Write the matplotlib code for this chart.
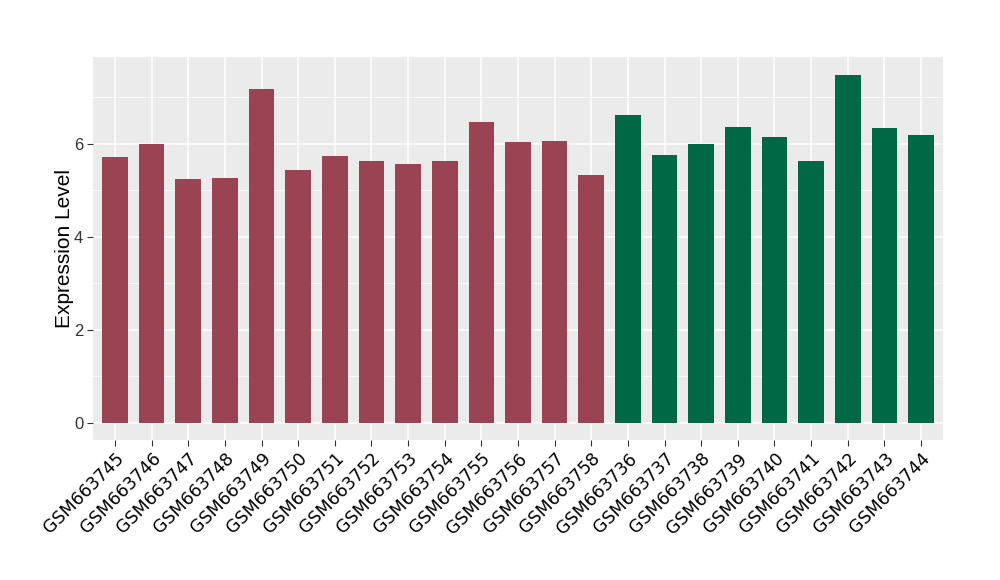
import matplotlib
matplotlib.use("Agg")
import matplotlib.pyplot as plt
import numpy as np

samples = ["GSM663745", "GSM663746", "GSM663747", "GSM663748", "GSM663749",
           "GSM663750", "GSM663751", "GSM663752", "GSM663753", "GSM663754",
           "GSM663755", "GSM663756", "GSM663757", "GSM663758",
           "GSM663736", "GSM663737", "GSM663738", "GSM663739", "GSM663740",
           "GSM663741", "GSM663742", "GSM663743", "GSM663744"]
values = [5.71, 5.99, 5.24, 5.26, 7.19, 5.43, 5.73, 5.62, 5.57, 5.62,
          6.46, 6.03, 6.07, 5.32,
          6.61, 5.77, 5.99, 6.37, 6.14, 5.64, 7.49, 6.35, 6.18]
groups = ["a"] * 14 + ["b"] * 9
group_colors = {"a": "#9A4352", "b": "#006845"}

fig = plt.figure(figsize=(10, 5.8), dpi=100)
ax = fig.add_axes([0.093, 0.2414, 0.85, 0.660])
ax.set_facecolor("#EBEBEB")

x = np.arange(1, len(samples) + 1)
ax.bar(x, values, width=0.7, color=[group_colors[g] for g in groups], zorder=3)

vmax = max(values)
ax.set_xlim(0.4, len(samples) + 0.6)
ax.set_ylim(-0.05 * vmax, vmax * 1.05)
ax.set_yticks([0, 2, 4, 6])
ax.set_yticks([1, 3, 5, 7], minor=True)
ax.set_xticks(x)
ax.set_xticklabels(samples, rotation=45, ha="right", rotation_mode="anchor",
                   fontsize=12.5, family="DejaVu Sans")
for lab in ax.get_yticklabels():
    lab.set_fontsize(12)
    lab.set_family("Liberation Sans")
    lab.set_color("#333333")

ax.grid(which="major", color="white", linewidth=1.1, zorder=0)
ax.grid(which="minor", axis="y", color="white", linewidth=0.5, zorder=0)
ax.tick_params(which="major", length=4, color="#333333", width=0.8, pad=3)
ax.tick_params(which="minor", length=0)
for s in ax.spines.values():
    s.set_visible(False)

ax.set_ylabel("Expression Level", fontsize=15, family="Liberation Sans", va="center")
ax.yaxis.set_label_coords(-0.033, 0.5)

fig.savefig("out.png", dpi=100)
